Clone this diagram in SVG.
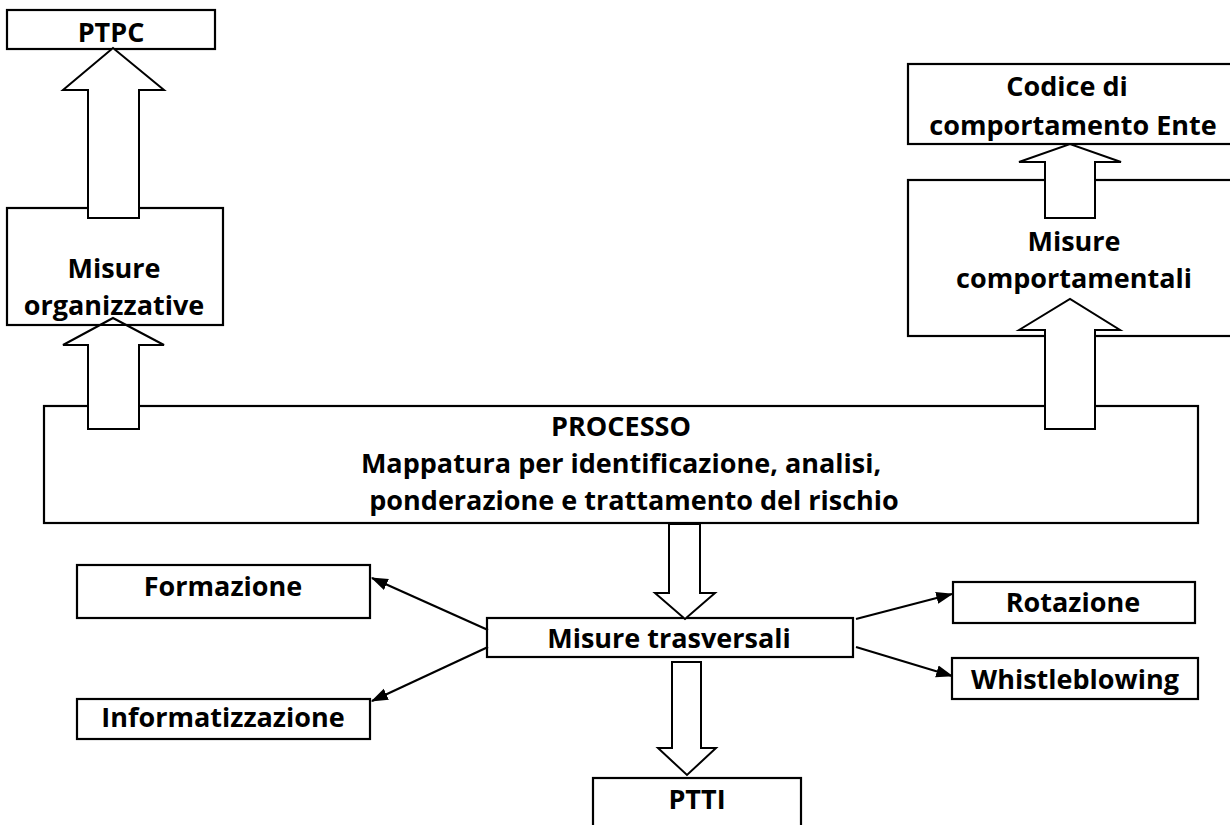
<svg xmlns="http://www.w3.org/2000/svg" width="1230" height="825" viewBox="0 0 1230 825">
  <style>
    .box { fill: #ffffff; stroke: #000000; stroke-width: 2.2; }
    .edge { stroke: #000000; stroke-width: 2.2; }
    .blk { fill: #ffffff; stroke: #000000; stroke-width: 2; stroke-linejoin: miter; }
    .t { font-family: "Open Sans", "Liberation Sans", sans-serif; font-weight: bold; font-size: 27px; fill: #000000; text-anchor: middle; }
    .ln { stroke: #000000; stroke-width: 2.2; fill: none; }
  </style>
  <defs>
    <marker id="ah" viewBox="0 0 14 10" refX="13" refY="5" markerWidth="17" markerHeight="13" markerUnits="userSpaceOnUse" orient="auto">
      <path d="M0,0 L14,5 L0,10 Z" fill="#000000"/>
    </marker>
  </defs>
  <rect width="1230" height="825" fill="#ffffff"/>

  <g id="ptpc">
    <rect class="box" x="7" y="10" width="208" height="39"/>
    <text class="t" x="111" y="42">PTPC</text>
  </g>

  <g id="misure-organizzative">
    <rect class="box" x="7" y="208" width="216" height="117"/>
    <text class="t" x="114" y="278">Misure</text>
    <text class="t" x="114" y="315">organizzative</text>
  </g>

  <g id="codice">
    <rect class="box" x="908" y="64" width="340" height="80"/>
    <text class="t" x="1067" y="96">Codice di</text>
    <text class="t" x="1073" y="135">comportamento Ente</text>
  </g>

  <g id="misure-comportamentali">
    <rect class="box" x="908" y="180" width="340" height="156"/>
    <text class="t" x="1074" y="251">Misure</text>
    <text class="t" x="1074" y="288">comportamentali</text>
  </g>

  <g id="processo">
    <rect class="box" x="44" y="406" width="1154" height="117"/>
    <text class="t" x="621" y="436">PROCESSO</text>
    <text class="t" x="621" y="473">Mappatura per identificazione, analisi,</text>
    <text class="t" x="634" y="510">ponderazione e trattamento del rischio</text>
  </g>

  <g id="misure-trasversali">
    <rect class="box" x="487" y="618" width="366" height="39"/>
    <text class="t" x="669" y="648">Misure trasversali</text>
  </g>

  <g id="formazione">
    <rect class="box" x="77" y="565" width="293" height="53"/>
    <text class="t" x="223" y="596">Formazione</text>
  </g>

  <g id="informatizzazione">
    <rect class="box" x="77" y="699" width="293" height="40"/>
    <text class="t" x="223" y="727">Informatizzazione</text>
  </g>

  <g id="rotazione">
    <rect class="box" x="953" y="582" width="242" height="41"/>
    <text class="t" x="1073" y="612">Rotazione</text>
  </g>

  <g id="whistleblowing">
    <rect class="box" x="952" y="658" width="246" height="41"/>
    <text class="t" x="1075" y="689">Whistleblowing</text>
  </g>

  <g id="ptti">
    <rect class="box" x="593" y="778" width="208" height="60"/>
    <text class="t" x="697" y="809">PTTI</text>
  </g>

  <g id="connectors">
    <polygon class="blk" points="88,218 88,90 63,90 113,48 164,90 139,90 139,218"/>
    <polygon class="blk" points="88,429 88,345 63,345 113,318 164,345 139,345 139,429"/>
    <polygon class="blk" points="1045,218 1045,162 1019,162 1070,144 1121,162 1095,162 1095,218"/>
    <polygon class="blk" points="1045,429 1045,330 1019,330 1070,299 1120,330 1095,330 1095,429"/>
    <polygon class="blk" points="669,524 700,524 700,593 715,593 685,619 655,593 669,593"/>
    <polygon class="blk" points="672,662 701,662 701,748 716,748 687,775 658,748 672,748"/>
    <line class="ln" x1="488" y1="630" x2="372" y2="578" marker-end="url(#ah)"/>
    <line class="ln" x1="488" y1="647" x2="372" y2="701" marker-end="url(#ah)"/>
    <line class="ln" x1="856" y1="619" x2="952" y2="594" marker-end="url(#ah)"/>
    <line class="ln" x1="856" y1="647" x2="952" y2="676" marker-end="url(#ah)"/>
  </g>
  <line class="edge" x1="90" y1="325" x2="137" y2="325"/>
</svg>
